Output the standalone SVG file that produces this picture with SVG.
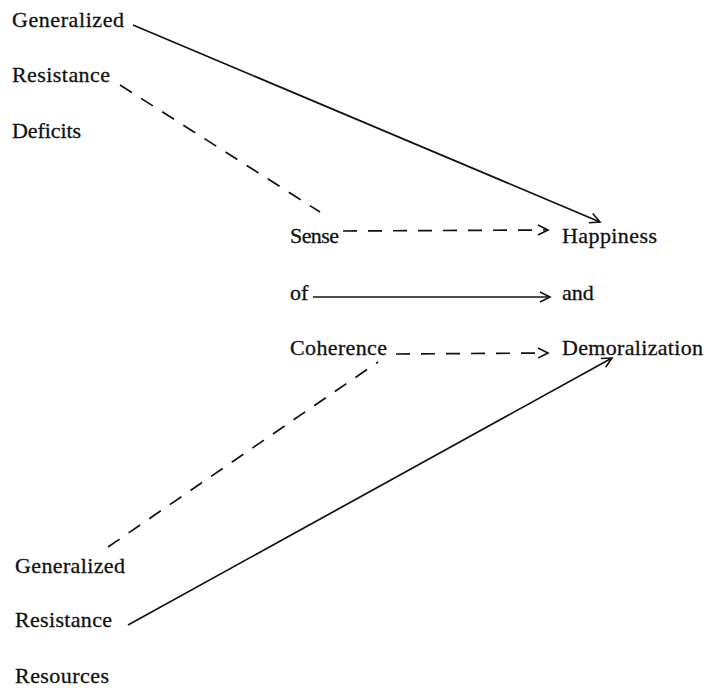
<svg xmlns="http://www.w3.org/2000/svg" width="709" height="688" viewBox="0 0 709 688">
<style>
text{font-family:"Liberation Serif","Times New Roman",serif;font-size:22px;fill:#111;stroke:#111;stroke-width:0.3}
.ln{stroke:#111;stroke-width:1.7;fill:none}
.d{stroke-dasharray:14 11}
</style>
<defs>
<marker id="ah" markerWidth="14" markerHeight="14" refX="12" refY="7" orient="auto" markerUnits="userSpaceOnUse">
<path d="M2,2 L12,7 L2,12" fill="none" stroke="#111" stroke-width="1.6"/>
</marker>
</defs>
<rect width="709" height="688" fill="#fff"/>
<g id="grd"><text x="12" y="27" textLength="112">Generalized</text><text x="12" y="82" textLength="98">Resistance</text><text x="12" y="138" textLength="69">Deficits</text></g>
<g id="soc"><text x="290" y="243" textLength="49">Sense</text><text x="290" y="300">of</text><text x="290" y="355" textLength="97">Coherence</text></g>
<g id="hd"><text x="562" y="243" textLength="95">Happiness</text><text x="562" y="300">and</text><text x="562" y="355" textLength="141">Demoralization</text></g>
<g id="grr"><text x="15" y="573" textLength="110">Generalized</text><text x="15" y="627" textLength="97">Resistance</text><text x="15" y="683" textLength="94">Resources</text></g>
<g id="connectors">
<path class="ln" d="M133,25 L600,222" marker-end="url(#ah)"/>
<path class="ln d" d="M120,85 L320,212"/>
<path class="ln d" d="M343,231 L548,230" marker-end="url(#ah)"/>
<path class="ln" d="M313,297 L550,297" marker-end="url(#ah)"/>
<path class="ln d" d="M396,354 L548,353" marker-end="url(#ah)"/>
<path class="ln d" d="M108,547 L378,362"/>
<path class="ln" d="M128,625 L612,358" marker-end="url(#ah)"/>
</g>
</svg>
